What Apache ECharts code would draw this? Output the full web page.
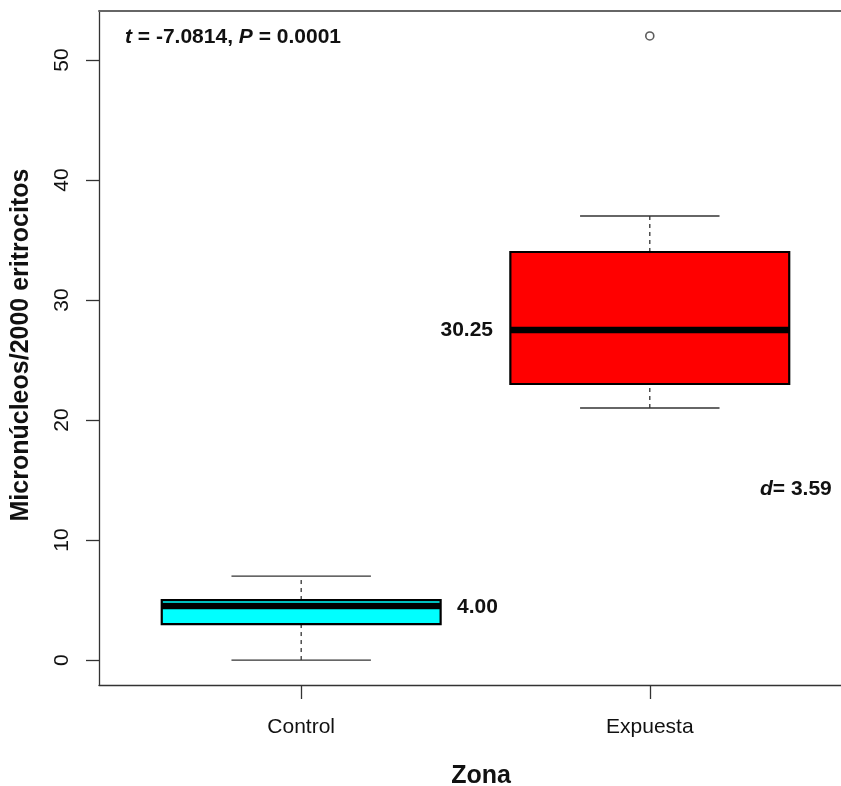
<!DOCTYPE html>
<html>
<head>
<meta charset="utf-8">
<script src="https://cdn.jsdelivr.net/npm/echarts@6/dist/echarts.min.js"></script>
<style>html,body{margin:0;padding:0;background:#fff;}#c{width:841px;height:786px;}</style>
</head>
<body>
<div id="c"></div>
<script>
const categories = ['Control', 'Expuesta'];
const whiskerLow = [0, 21];
const q1 = [3, 23];
const median = [4.5, 27.5];
const q3 = [5, 34];
const whiskerHigh = [7, 37];
const boxColors = ['#00FFFF', '#FF0000'];
const outliers = [[2, 52]];
const yTicks = [0, 10, 20, 30, 40, 50];
const xTicks = [1, 2];

const FONT = '"Liberation Sans", Arial, sans-serif';
const boxData = categories.map((c, i) => [i + 1, whiskerLow[i], q1[i], median[i], q3[i], whiskerHigh[i], i]);

const chart = echarts.init(document.getElementById('c'), null, {renderer: 'canvas'});
chart.setOption({
  backgroundColor: '#fff',
  animation: false,
  grid: {left: 99, right: 0, top: 11, bottom: 101, show: false},
  xAxis: [{
    type: 'value', min: 0.42, max: 2.5485, position: 'bottom',
    axisLine: {show: true, onZero: false, lineStyle: {color: '#333', width: 1.3}},
    splitLine: {show: false},
    axisTick: {show: true, customValues: xTicks, length: 14, lineStyle: {color: '#333', width: 1.3}},
    axisLabel: {customValues: xTicks, formatter: v => categories[Math.round(v) - 1], fontFamily: FONT, fontSize: 21, color: '#111', margin: 32}
  }, {
    type: 'value', min: 0.42, max: 2.5485, position: 'top',
    axisLine: {show: true, onZero: false, lineStyle: {color: '#666', width: 2}},
    splitLine: {show: false}, axisTick: {show: false}, axisLabel: {show: false}
  }],
  yAxis: {
    type: 'value', min: -2.08, max: 54.08,
    axisLine: {show: true, onZero: false, lineStyle: {color: '#333', width: 1.3}},
    splitLine: {show: false},
    axisTick: {show: true, customValues: yTicks, length: 13, lineStyle: {color: '#333', width: 1.3}},
    axisLabel: {customValues: yTicks, rotate: 90, fontFamily: FONT, fontSize: 21, color: '#111', margin: 26}
  },
  series: [
    {
      type: 'custom',
      data: boxData,
      encode: {x: 0, y: [1, 2, 3, 4, 5]},
      renderItem: function (params, api) {
        const x = api.value(0);
        const lo = api.coord([x, api.value(1)]);
        const b1 = api.coord([x, api.value(2)]);
        const md = api.coord([x, api.value(3)]);
        const b3 = api.coord([x, api.value(4)]);
        const hi = api.coord([x, api.value(5)]);
        const boxW = api.size([0.8, 0])[0];
        const capW = api.size([0.4, 0])[0];
        const cx = lo[0];
        const fill = boxColors[api.value(6)];
        const dash = {stroke: '#333', lineWidth: 1.3, lineDash: [4, 4]};
        const solid = {stroke: '#333', lineWidth: 1.3};
        return {
          type: 'group',
          children: [
            {type: 'line', shape: {x1: cx, y1: lo[1], x2: cx, y2: b1[1]}, style: dash},
            {type: 'line', shape: {x1: cx, y1: b3[1], x2: cx, y2: hi[1]}, style: dash},
            {type: 'line', shape: {x1: cx - capW / 2, y1: lo[1], x2: cx + capW / 2, y2: lo[1]}, style: solid},
            {type: 'line', shape: {x1: cx - capW / 2, y1: hi[1], x2: cx + capW / 2, y2: hi[1]}, style: solid},
            {type: 'rect', shape: {x: cx - boxW / 2, y: b3[1], width: boxW, height: b1[1] - b3[1]}, style: {fill: fill, stroke: '#000', lineWidth: 2.2}},
            {type: 'line', shape: {x1: cx - boxW / 2, y1: md[1], x2: cx + boxW / 2, y2: md[1]}, style: {stroke: '#000', lineWidth: 6.5}}
          ]
        };
      },
      z: 2
    },
    {
      type: 'scatter',
      data: outliers,
      symbol: 'circle',
      symbolSize: 8,
      itemStyle: {color: '#fff', borderColor: '#333', borderWidth: 1.6},
      z: 3
    }
  ],
  graphic: [
    {type: 'text', x: 21, y: 345, rotation: Math.PI / 2,
      style: {text: 'Micronúcleos/2000 eritrocitos', font: 'bold 25px ' + FONT, fill: '#111', textAlign: 'center', textVerticalAlign: 'middle'}},
    {type: 'text', x: 481, y: 776,
      style: {text: 'Zona', font: 'bold 25px ' + FONT, fill: '#111', textAlign: 'center', textVerticalAlign: 'middle'}},
    {type: 'text', x: 125, y: 37,
      style: {text: '{i|t} = -7.0814, {i|P} = 0.0001', font: 'bold 21px ' + FONT, fill: '#111', textAlign: 'left', textVerticalAlign: 'middle',
        rich: {i: {fontStyle: 'italic', fontWeight: 'bold', fontSize: 21, fontFamily: FONT, fill: '#111', color: '#111'}}}},
    {type: 'text', x: 493, y: 330,
      style: {text: '30.25', font: 'bold 21px ' + FONT, fill: '#111', textAlign: 'right', textVerticalAlign: 'middle'}},
    {type: 'text', x: 457, y: 607,
      style: {text: '4.00', font: 'bold 21px ' + FONT, fill: '#111', textAlign: 'left', textVerticalAlign: 'middle'}},
    {type: 'text', x: 760, y: 489,
      style: {text: '{i|d}= 3.59', font: 'bold 21px ' + FONT, fill: '#111', textAlign: 'left', textVerticalAlign: 'middle',
        rich: {i: {fontStyle: 'italic', fontWeight: 'bold', fontSize: 21, fontFamily: FONT, fill: '#111', color: '#111'}}}}
  ]
});
</script>
</body>
</html>
